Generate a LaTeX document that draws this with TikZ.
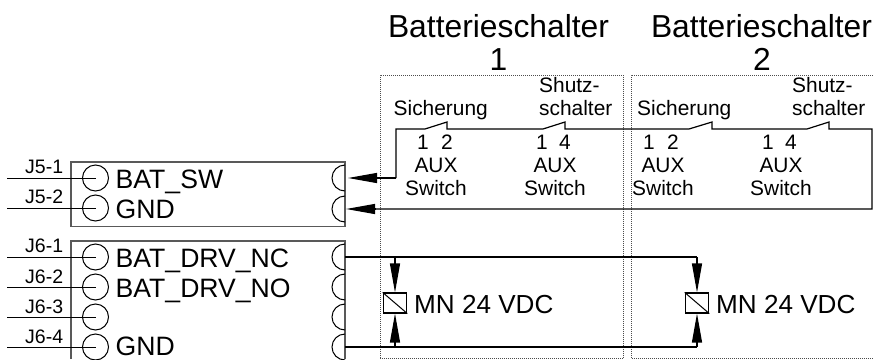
\documentclass[tikz,border=0pt]{standalone}
\usepackage{fontspec}
\setmainfont{Liberation Sans}
\usetikzlibrary{arrows.meta}
\tikzset{
  wire/.style={draw=black,line width=1.2pt},
  housing/.style={draw=black!65,line width=1.1pt},
  zone/.style={draw=black!70,line width=1pt,dash pattern=on 1pt off 1pt},
  pin/.style={circle,draw=black,line width=1pt,minimum size=26pt,inner sep=0pt},
  coil/.style={rectangle,draw=black,line width=1.1pt,minimum width=23.5pt,minimum height=20pt,inner sep=0pt},
  tip/.style={-{Triangle[length=29pt,width=10pt]}},
  txt/.style={anchor=base west,inner sep=0pt,text=black},
  mid/.style={anchor=base,inner sep=0pt,text=black},
  big/.style={font=\fontsize{31.8}{34}\selectfont},
  sig/.style={font=\fontsize{26.6}{30}\selectfont},
  coiltext/.style={font=\fontsize{26.1}{30}\selectfont},
  med/.style={font=\fontsize{20.9}{24}\selectfont},
  small/.style={font=\fontsize{19.5}{22}\selectfont},
}
\begin{document}
\begin{tikzpicture}[x=1pt,y=-1pt]
\useasboundingbox (0,0) rectangle (873,359);
% zones
\draw[zone] (380,358) -- (380,75) -- (623.5,75) -- (623.5,358) -- cycle;
\draw[zone] (873,358) -- (631,358) -- (631,75) -- (873,75);
% housings
\draw[housing] (345,162) -- (71,162) -- (71,226.5) -- (345,226.5) -- cycle;
\draw[housing] (71,359) -- (71,241) -- (345,241) -- (345,359);
% left pins
\node[pin] (p1) at (95.5,178) {};
\node[pin] (p2) at (95.5,208) {};
\node[pin] (p3) at (95.5,257) {};
\node[pin] (p4) at (95.5,287) {};
\node[pin] (p5) at (95.5,317) {};
\node[pin] (p6) at (95.5,347) {};
\coordinate (w1) at (7,178);
\coordinate (w2) at (7,208);
\coordinate (w3) at (7,257);
\coordinate (w4) at (7,287);
\coordinate (w5) at (7,317);
\coordinate (w6) at (7,347);
\foreach \i in {1,...,6}{\draw[wire,line width=1pt] (w\i) -- (p\i.center);}
% right sockets
\foreach \y in {178,209,257,287,317,347}{
  \draw[wire,line width=1pt] (345,\y-13) arc (90:270:13pt);
}
% pin labels
\node[txt,small] (l1) at (25,173) {J5-1};
\node[txt,small] (l2) at (25,203) {J5-2};
\node[txt,small] (l3) at (25,252) {J6-1};
\node[txt,small] (l4) at (25,283) {J6-2};
\node[txt,small] (l5) at (25,313) {J6-3};
\node[txt,small] (l6) at (25,343) {J6-4};
\node[txt,sig] (s1) at (115.5,188) {BAT\_SW};
\node[txt,sig] (s2) at (115.5,218) {GND};
\node[txt,sig] (s3) at (115.5,267) {BAT\_DRV\_NC};
\node[txt,sig] (s4) at (115.5,297) {BAT\_DRV\_NO};
\node[txt,sig] (s6) at (115.5,355.5) {GND};
% titles
\node[mid,big] (t1) at (498.5,37) {Batterieschalter};
\node[mid,big] (t1n) at (498.5,70) {1};
\node[mid,big] (t2) at (761.5,37) {Batterieschalter};
\node[mid,big] (t2n) at (762,70) {2};
% contact chain
\coordinate (sock1) at (348,178);
\coordinate (sock2) at (346,209);
\coordinate (a) at (396,178);
\coordinate (b) at (396,129);
\draw[wire,tip] (a) -- (sock1);
\draw[wire,line join=miter] (a) -- (b) -- (425,129) -- (447,122) -- (447,129) -- (543,129)
  -- (565,122) -- (565,129) -- (689,129) -- (712,122) -- (712,129) -- (807,129)
  -- (829,122) -- (829,129) -- (872,129) -- (872,209) -- (376,209);
\draw[wire,tip] (376,209) -- (sock2);
% contact labels
\node[txt,med] (c1) at (393.5,115) {Sicherung};
\node[txt,med] (c2) at (539,92) {Shutz-};
\node[txt,med] (c3) at (539,115) {schalter};
\node[txt,med] (c4) at (637,115) {Sicherung};
\node[txt,med] (c5) at (792,92) {Shutz-};
\node[txt,med] (c6) at (792,115) {schalter};
\node[mid,med] at (423,149) {1};
\node[mid,med] at (447,149) {2};
\node[mid,med] at (542,149) {1};
\node[mid,med] at (565,149) {4};
\node[mid,med] at (649,149) {1};
\node[mid,med] at (673,149) {2};
\node[mid,med] at (768,149) {1};
\node[mid,med] at (791,149) {4};
\foreach \x in {436,555,663,781}{
  \node[mid,med] at (\x,172) {AUX};
  \node[mid,med] at (\x,195) {Switch};
}
% coils
\node[coil] (m1) at (395,303) {};
\node[coil] (m2) at (697,303) {};
\draw[wire,line width=1pt] (m1.north west) -- (m1.south east);
\draw[wire,line width=1pt] (m2.north west) -- (m2.south east);
\node[txt,coiltext] (mt1) at (414,313) {MN 24 VDC};
\node[txt,coiltext] (mt2) at (716,313) {MN 24 VDC};
\coordinate (n0) at (345,257);
\coordinate (n1) at (395,257);
\coordinate (n2) at (697,257);
\coordinate (g0) at (345,347);
\coordinate (g1) at (395,347);
\coordinate (g2) at (697,347);
\draw[wire] (n0) -- (n2);
\draw[wire] (g0) -- (g2);
\draw[wire,tip] (n1) -- (m1.north);
\draw[wire,tip] (n2) -- (m2.north);
\draw[wire,tip] (g1) -- (m1.south);
\draw[wire,tip] (g2) -- (m2.south);
\end{tikzpicture}
\end{document}
